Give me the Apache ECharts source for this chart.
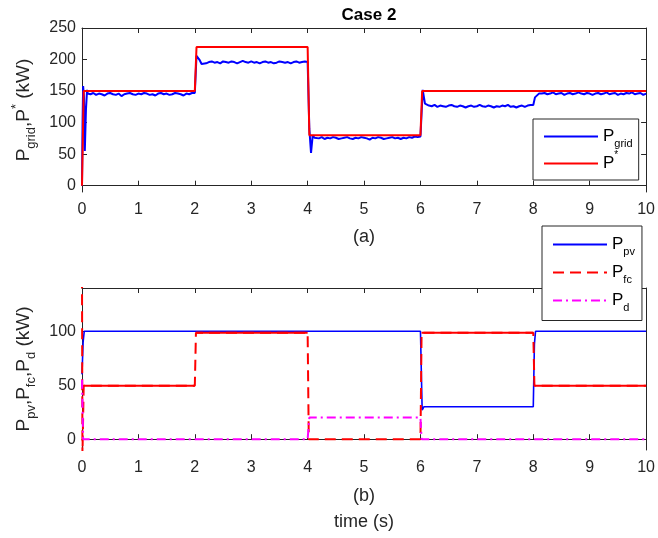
<!DOCTYPE html>
<html>
<head>
<meta charset="utf-8">
<script src="https://cdn.jsdelivr.net/npm/echarts@6.0.0/dist/echarts.min.js"></script>
<style>
  html, body { margin: 0; padding: 0; background: #fff; }
  #main { width: 658px; height: 538px; }
</style>
</head>
<body>
<div id="main"></div>
<script>
// (a) reference power and grid power
var pStar = [[0, 0], [0.03, 150], [2.0, 150], [2.03, 220], [4.0, 220], [4.03, 80], [6.0, 80], [6.03, 150], [10, 150]];

var pgridStart = [[0, 0], [0.01, 100], [0.02, 158], [0.035, 140], [0.05, 55], [0.07, 120], [0.09, 152]];
var pgridA = [146,145,147,144,146,145,143,146,147,145,144,146,142,145,146,147,145,144,146,145,147,146,144,145,143,146,147,145,146,144,145,147,146,145,143,146,145,147];
var pgridStep2 = [[2.0, 147], [2.03, 206], [2.08, 200], [2.12, 193]];
var pgridB = [195,194,196,197,195,196,194,197,196,195,197,196,194,196,198,196,195,197,195,196,194,196,197,195,196,194,195,197,196,195,196,194,196,197,195,196,197];
var pgridStep4 = [[4.0, 196], [4.03, 90], [4.06, 52], [4.09, 80], [4.12, 76]];
var pgridC = [76,75,77,74,76,75,77,76,74,75,76,77,75,74,76,75,77,76,75,73,76,75,77,76,74,75,76,77,75,76,74,76,75,77,76,78,77];
var pgridStep6 = [[6.0, 78], [6.04, 152], [6.08, 130], [6.11, 127]];
var pgridD = [127,126,128,125,127,126,125,127,128,126,125,127,126,124,126,127,125,126,128,126,125,127,126,124,126,125,127,126,128,125,126,124,126,127,125,127,128];
var pgridStep8 = [[8.0, 128], [8.03, 140], [8.06, 138], [8.1, 146]];
var pgridE = [146,147,145,146,148,145,146,147,144,146,147,145,146,148,146,145,147,146,144,146,147,145,146,148,145,146,147,144,146,145,147,146,148,145,146,147,144,146];

// (b) source powers
var ppv = [[0, 60], [0.02, 90], [0.04, 100], [6.0, 100], [6.03, 27], [6.06, 30], [8.0, 30], [8.02, 88], [8.04, 100], [10, 100]];
var pfc = [[0, 150], [0.008, -15], [0.03, 49.5], [2.0, 49.5], [2.02, 98.5], [4.0, 98.5], [4.02, 0], [6.0, 0], [6.02, 98.5], [8.0, 98.5], [8.02, 49.5], [10, 49.5]];
var pfcPlateaus = [[0.03, 49.5], [2.0, 49.5], [2.01, null], [2.02, 98.5], [4.0, 98.5], [4.01, null], [6.02, 98.5], [8.0, 98.5], [8.01, null], [8.02, 49.5], [10, 49.5]];
var pd = [[0, 55], [0.02, 0], [4.0, 0], [4.03, 20], [6.0, 20], [6.02, 0], [10, 0]];

var yTicksA = [0, 50, 100, 150, 200, 250];
var yTicksB = [0, 50, 100];

function seg(t0, dt, vals) {
  return vals.map(function (v, i) { return [+(t0 + i * dt).toFixed(3), v]; });
}

var pgrid = [].concat(
  pgridStart, seg(0.10, 0.05, pgridA),
  pgridStep2, seg(2.15, 0.05, pgridB),
  pgridStep4, seg(4.15, 0.05, pgridC),
  pgridStep6, seg(6.15, 0.05, pgridD),
  pgridStep8, seg(8.15, 0.05, pgridE)
);

var FONT = 'Liberation Sans, Arial, sans-serif';
var INK = '#262626';

var richName = {
  m: { fontSize: 19, lineHeight: 28, fontFamily: FONT, color: INK },
  sub: { fontSize: 13, lineHeight: 13, verticalAlign: 'bottom', fontFamily: FONT, color: INK },
  sup: { fontSize: 13, lineHeight: 13, verticalAlign: 'top', fontFamily: FONT, color: INK }
};
var richLegend = {
  m: { fontSize: 17, lineHeight: 26, fontFamily: FONT, color: '#000' },
  sub: { fontSize: 11, lineHeight: 10, verticalAlign: 'bottom', fontFamily: FONT, color: '#000' },
  sup: { fontSize: 10, lineHeight: 10, verticalAlign: 'top', fontFamily: FONT, color: '#000' }
};
var legendText = {
  'Pgrid': '{m|P}{sub|grid}',
  'P*': '{m|P}{sup|*}',
  'Ppv': '{m|P}{sub|pv}',
  'Pfc': '{m|P}{sub|fc}',
  'Pd': '{m|P}{sub|d}'
};

function xAxis(grid, name, gap, labels) {
  return {
    type: 'value', gridIndex: grid, min: 0, max: 10, interval: 1,
    position: 'bottom',
    name: name, nameLocation: 'middle', nameGap: gap,
    nameTextStyle: { fontFamily: FONT, fontSize: 18, color: INK, lineHeight: 26 },
    axisLine: { show: true, lineStyle: { color: INK, width: 1 } },
    axisTick: { show: true, inside: true, length: 5, lineStyle: { color: INK } },
    axisLabel: { show: labels, margin: 10, fontFamily: FONT, fontSize: 16, color: INK },
    splitLine: { show: false }
  };
}
function xTop(grid) {
  return {
    type: 'value', gridIndex: grid, min: 0, max: 10, interval: 1, position: 'top',
    axisLine: { show: true, onZero: false, lineStyle: { color: INK, width: 1 } },
    axisTick: { show: true, inside: true, length: 5, lineStyle: { color: INK } },
    axisLabel: { show: false }, splitLine: { show: false }
  };
}
function yAxis(grid, min, max, ticks, name, gap, pos) {
  var left = pos === 'left';
  return {
    type: 'value', gridIndex: grid, min: min, max: max, position: pos,
    name: left ? name : '', nameLocation: 'middle', nameGap: gap, nameRotate: 90,
    nameTextStyle: { rich: richName },
    axisLine: { show: true, onZero: false, lineStyle: { color: INK, width: 1 } },
    axisTick: { show: true, inside: true, length: 5, customValues: ticks, lineStyle: { color: INK } },
    axisLabel: { show: left, customValues: ticks, margin: 6, fontFamily: FONT, fontSize: 16, color: INK },
    splitLine: { show: false }
  };
}
function legend(names, left, top, padding, gap) {
  return {
    data: names, orient: 'vertical', left: left, top: top,
    padding: padding, itemGap: gap, itemWidth: 54, itemHeight: 14,
    backgroundColor: '#fff', borderColor: INK, borderWidth: 1,
    itemStyle: { opacity: 0 },
    formatter: function (n) { return legendText[n]; },
    textStyle: { rich: richLegend }, selectedMode: false
  };
}

var myChart = echarts.init(document.getElementById('main'), null, { renderer: 'canvas' });

var option = {
  animation: false,
  backgroundColor: '#fff',
  title: {
    text: 'Case 2', left: 364, top: 2, textAlign: 'center',
    textStyle: { fontFamily: FONT, fontSize: 17, fontWeight: 'bold', color: '#000' }
  },
  grid: [
    { left: 82, width: 565, top: 28, height: 164 },
    { left: 82, width: 565, top: 288, height: 162 }
  ],
  legend: [
    legend(['Pgrid', 'P*'], 533, 119, [9, 6, 8, 10], 1),
    legend(['Ppv', 'Pfc', 'Pd'], 542, 226, [10, 7, 7, 10], 6.5)
  ],
  xAxis: [
    xAxis(0, '(a)', 32, true), xTop(0),
    xAxis(1, '(b)\ntime (s)', 33, true), xTop(1)
  ],
  yAxis: [
    yAxis(0, -10, 250, yTicksA, '{m|P}{sub|grid}{m|,P}{sup|*}{m| (kW)}', 44, 'left'),
    yAxis(0, -10, 250, yTicksA, '', 0, 'right'),
    yAxis(1, -10, 140, yTicksB, '{m|P}{sub|pv}{m|,P}{sub|fc}{m|,P}{sub|d}{m| (kW)}', 44, 'left'),
    yAxis(1, -10, 140, yTicksB, '', 0, 'right')
  ],
  series: [
    { name: 'Pgrid', type: 'line', xAxisIndex: 0, yAxisIndex: 0, data: pgrid, symbol: 'none',
      lineStyle: { color: '#0000ff', width: 2 }, itemStyle: { color: '#0000ff' } },
    { name: 'P*', type: 'line', xAxisIndex: 0, yAxisIndex: 0, data: pStar, symbol: 'none',
      lineStyle: { color: '#ff0000', width: 2 }, itemStyle: { color: '#ff0000' } },
    { name: 'Ppv', type: 'line', xAxisIndex: 2, yAxisIndex: 2, data: ppv, symbol: 'none',
      lineStyle: { color: '#0000ff', width: 1.6 }, itemStyle: { color: '#0000ff' } },
    { name: 'Pfc', type: 'line', xAxisIndex: 2, yAxisIndex: 2, data: pfc, symbol: 'none',
      lineStyle: { color: '#ff0000', width: 2, type: [11, 6] }, itemStyle: { color: '#ff0000' } },
    { name: 'Pfc noisy', type: 'line', xAxisIndex: 2, yAxisIndex: 2, data: pfcPlateaus, symbol: 'none',
      connectNulls: false, lineStyle: { color: '#ff0000', width: 2 }, itemStyle: { color: '#ff0000' } },
    { name: 'Pd', type: 'line', xAxisIndex: 2, yAxisIndex: 2, data: pd, symbol: 'none',
      lineStyle: { color: '#ff00ff', width: 2, type: [9, 4, 2, 4] }, itemStyle: { color: '#ff00ff' } }
  ]
};

myChart.setOption(option);
</script>
</body>
</html>
